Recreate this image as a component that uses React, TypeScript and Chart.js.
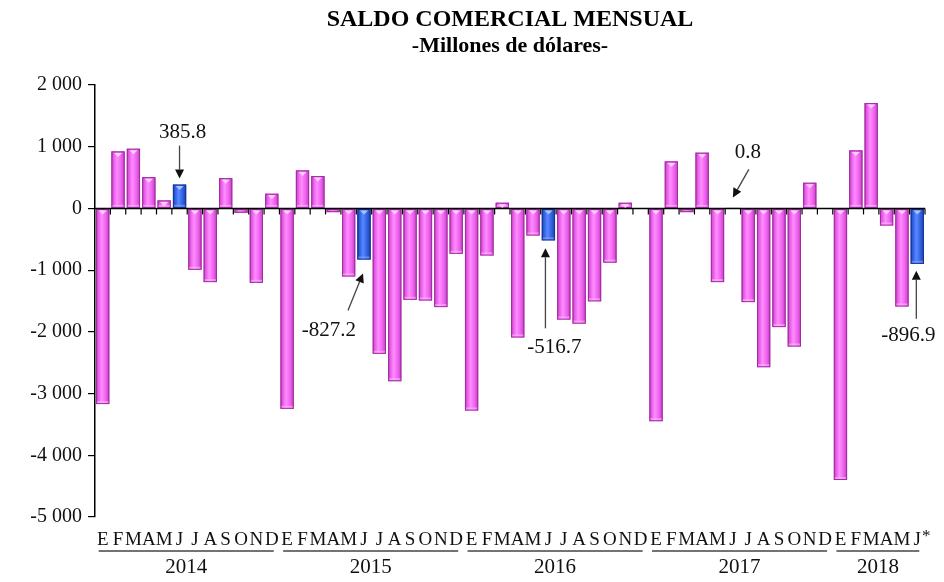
import { useEffect, useRef } from "react";
import { Chart, registerables } from "chart.js";

Chart.register(...registerables);

const monthLetters = ["E", "F", "M", "A", "M", "J", "J", "A", "S", "O", "N", "D"];
const years = ["2014", "2015", "2016", "2017", "2018"];
const values2014 = [-3170, 924, 967, 507, 130, 385.8, -994, -1194, 491, -70, -1205, 238];
const values2015 = [-3247, 616, 524, -60, -1102, -827.2, -2355, -2799, -1480, -1491, -1599, -735];
const values2016 = [-3274, -762, 92, -2090, -438, -516.7, -1800, -1866, -1505, -878, 92, 0];
const values2017 = [-3447, 762, -60, 903, -1194, 0.8, -1518, -2572, -1923, -2237, 416, 0];
const values2018 = [-4400, 940, 1707, -276, -1588, -896.9];
const yTicks = [2000, 1000, 0, -1000, -2000, -3000, -4000, -5000];
const highlightIdx = [5, 17, 29, 41, 53];
const annotationLabels = ["385.8", "-827.2", "-516.7", "0.8", "-896.9"];

const seriesByYear = [values2014, values2015, values2016, values2017, values2018];
const values: number[] = seriesByYear.flat();
const categories: string[] = [];
const yearOfIndex: number[] = [];
seriesByYear.forEach((arr, yi) =>
  arr.forEach((_, mi) => {
    categories.push(`${monthLetters[mi]} ${years[yi]}`);
    yearOfIndex.push(yi);
  })
);

const SERIF = "'Liberation Serif', 'Times New Roman', serif";

// annotation layout (offsets relative to the bar end, pixels)
const annoLayout = [
  { tx: 3, ty: -52, ax1: 0, ay1: -39, ax2: 0, ay2: -6 },
  { tx: -35, ty: 71, ax1: -16, ay1: 51, ax2: -1, ay2: 14 },
  { tx: 6, ty: 107, ax1: -3, ay1: 88, ax2: -3, ay2: 8 },
  { tx: 15, ty: -56, ax1: 16, ay1: -39, ax2: 0, ay2: -11 },
  { tx: -9, ty: 72, ax1: -1, ay1: 55, ax2: -1, ay2: 7 },
];

function fmt(v: number) {
  const s = Math.abs(v).toString();
  const withSp = s.replace(/\B(?=(\d{3})+(?!\d))/g, " ");
  return (v < 0 ? "-" : "") + withSp;
}

function drawArrow(ctx: CanvasRenderingContext2D, x1: number, y1: number, x2: number, y2: number) {
  const ang = Math.atan2(y2 - y1, x2 - x1);
  const hl = 9, hw = 4.5;
  const bx = x2 - hl * Math.cos(ang), by = y2 - hl * Math.sin(ang);
  ctx.save();
  ctx.strokeStyle = "#444";
  ctx.lineWidth = 1.3;
  ctx.beginPath();
  ctx.moveTo(x1, y1);
  ctx.lineTo(bx, by);
  ctx.stroke();
  ctx.fillStyle = "#111";
  ctx.beginPath();
  ctx.moveTo(x2, y2);
  ctx.lineTo(bx + hw * Math.sin(ang), by - hw * Math.cos(ang));
  ctx.lineTo(bx - hw * Math.sin(ang), by + hw * Math.cos(ang));
  ctx.closePath();
  ctx.fill();
  ctx.restore();
}

const decorPlugin = {
  id: "decor",
  afterDatasetsDraw(chart: any) {
    const ctx: CanvasRenderingContext2D = chart.ctx;
    const xs = chart.scales.x;
    const ys = chart.scales.y;
    const area = chart.chartArea;
    const meta = chart.getDatasetMeta(0);

    // cylinder shading on the bars
    meta.data.forEach((bar: any, i: number) => {
      const { x, y, base, width } = bar.getProps(["x", "y", "base", "width"], true);
      const left = x - width / 2;
      const top = Math.min(y, base);
      const bottom = Math.max(y, base);
      const h = bottom - top;
      if (h < 0.6) return;
      const blue = highlightIdx.includes(i);
      const g = ctx.createLinearGradient(left, 0, left + width, 0);
      if (blue) {
        g.addColorStop(0, "#1d44b8");
        g.addColorStop(0.18, "#2f5fe0");
        g.addColorStop(0.42, "#5a88ff");
        g.addColorStop(0.7, "#3566e6");
        g.addColorStop(1, "#1a3fae");
      } else {
        g.addColorStop(0, "#c23ec2");
        g.addColorStop(0.18, "#e65ee6");
        g.addColorStop(0.42, "#ff8cff");
        g.addColorStop(0.72, "#f064f0");
        g.addColorStop(1, "#c040c0");
      }
      ctx.save();
      ctx.fillStyle = g;
      ctx.fillRect(left, top, width, h);
      ctx.strokeStyle = blue ? "#15348f" : "#9c2f9c";
      ctx.lineWidth = 1;
      ctx.strokeRect(left + 0.5, top + 0.5, width - 1, h - 1);
      if (h > 5) {
        ctx.fillStyle = blue ? "rgba(140,170,255,0.55)" : "rgba(255,190,255,0.55)";
        ctx.fillRect(left + 1, bottom - 3, width - 2, 2);
      }
      if (h > 4) {
        ctx.fillStyle = blue ? "#a9c2ff" : "#ffd0ff";
        ctx.beginPath();
        ctx.moveTo(x - 4, top + 1.5);
        ctx.lineTo(x + 4, top + 1.5);
        ctx.lineTo(x, top + 5.5);
        ctx.closePath();
        ctx.fill();
      }
      ctx.restore();
    });

    // zero line with boundary ticks
    const y0 = ys.getPixelForValue(0);
    ctx.save();
    ctx.strokeStyle = "#000";
    ctx.lineWidth = 1.5;
    ctx.beginPath();
    ctx.moveTo(area.left, y0);
    ctx.lineTo(area.right, y0);
    ctx.stroke();
    ctx.lineWidth = 1.2;
    for (let i = 0; i < values.length; i++) {
      const bx = (xs.getPixelForValue(i) + xs.getPixelForValue(i + 1)) / 2;
      ctx.beginPath();
      ctx.moveTo(bx, y0);
      ctx.lineTo(bx, y0 + 6);
      ctx.stroke();
    }
    ctx.restore();

    // annotations
    ctx.save();
    ctx.font = `21px ${SERIF}`;
    ctx.fillStyle = "#111";
    ctx.textAlign = "center";
    ctx.textBaseline = "middle";
    highlightIdx.forEach((idx, k) => {
      const bar = meta.data[idx];
      const bx = bar.x;
      const by = ys.getPixelForValue(values[idx]);
      const L = annoLayout[k];
      ctx.fillText(annotationLabels[k], bx + L.tx, by + L.ty);
      drawArrow(ctx, bx + L.ax1, by + L.ay1, bx + L.ax2, by + L.ay2);
    });
    ctx.restore();

    // month letters, year underlines and labels
    ctx.save();
    ctx.fillStyle = "#111";
    ctx.textAlign = "center";
    ctx.textBaseline = "middle";
    ctx.font = `19px ${SERIF}`;
    const monthY = area.bottom + 23;
    for (let i = 0; i < values.length; i++) {
      const cx = xs.getPixelForValue(i);
      const letter = categories[i].split(" ")[0];
      ctx.fillText(letter, cx, monthY);
      if (i === values.length - 1) {
        ctx.font = `17px ${SERIF}`;
        ctx.fillText("*", cx + 9, monthY - 3);
        ctx.font = `19px ${SERIF}`;
      }
    }
    ctx.font = `21px ${SERIF}`;
    years.forEach((yr, yi) => {
      const idxs = yearOfIndex.map((v, i) => (v === yi ? i : -1)).filter((v) => v >= 0);
      const x1 = xs.getPixelForValue(idxs[0]) - 4;
      const x2 = xs.getPixelForValue(idxs[idxs.length - 1]) + 2;
      const ly = area.bottom + 34;
      ctx.strokeStyle = "#444";
      ctx.lineWidth = 1.6;
      ctx.beginPath();
      ctx.moveTo(x1, ly);
      ctx.lineTo(x2, ly);
      ctx.stroke();
      ctx.fillText(yr, (x1 + x2) / 2, area.bottom + 50);
    });
    ctx.restore();

    // title
    ctx.save();
    ctx.fillStyle = "#000";
    ctx.textAlign = "center";
    ctx.textBaseline = "middle";
    const tcx = (area.left + area.right) / 2;
    ctx.font = `bold 24px ${SERIF}`;
    ctx.fillText("SALDO COMERCIAL MENSUAL", tcx, 12);
    ctx.font = `bold 22px ${SERIF}`;
    ctx.fillText("-Millones de dólares-", tcx, 38);
    ctx.restore();
  },
};

export default function App() {
  const ref = useRef<HTMLCanvasElement | null>(null);
  useEffect(() => {
    if (!ref.current) return;
    const chart = new Chart(ref.current, {
      type: "bar",
      data: {
        labels: categories,
        datasets: [
          {
            data: values,
            backgroundColor: values.map((_, i) => (highlightIdx.includes(i) ? "#2f5fe0" : "#ee66ee")),
            borderWidth: 0,
            barPercentage: 0.86,
            categoryPercentage: 1,
          },
        ],
      },
      options: {
        animation: false,
        responsive: false,
        maintainAspectRatio: false,
        layout: { padding: { top: 77, bottom: 57, left: 0, right: 11 } },
        plugins: { legend: { display: false }, title: { display: false }, tooltip: { enabled: false } },
        scales: {
          x: { display: false, offset: true },
          y: {
            min: -5000,
            max: 2000,
            afterFit: (s: any) => {
              s.width = 87;
            },
            afterBuildTicks: (s: any) => {
              s.ticks = yTicks.map((v) => ({ value: v }));
            },
            ticks: {
              callback: (v: any) => fmt(Number(v)),
              color: "#111",
              font: { family: SERIF, size: 20 },
              padding: 6,
            },
            grid: { drawOnChartArea: false, drawTicks: true, tickLength: 7, color: "#000", lineWidth: 1.2 },
            border: { display: true, color: "#000", width: 1.5 },
          },
        },
      },
      plugins: [decorPlugin],
    });
    return () => chart.destroy();
  }, []);
  return (
    <div style={{ width: 928, height: 566 }}>
      <canvas ref={ref} width={928} height={566} style={{ width: 928, height: 566, display: "block" }} />
    </div>
  );
}
